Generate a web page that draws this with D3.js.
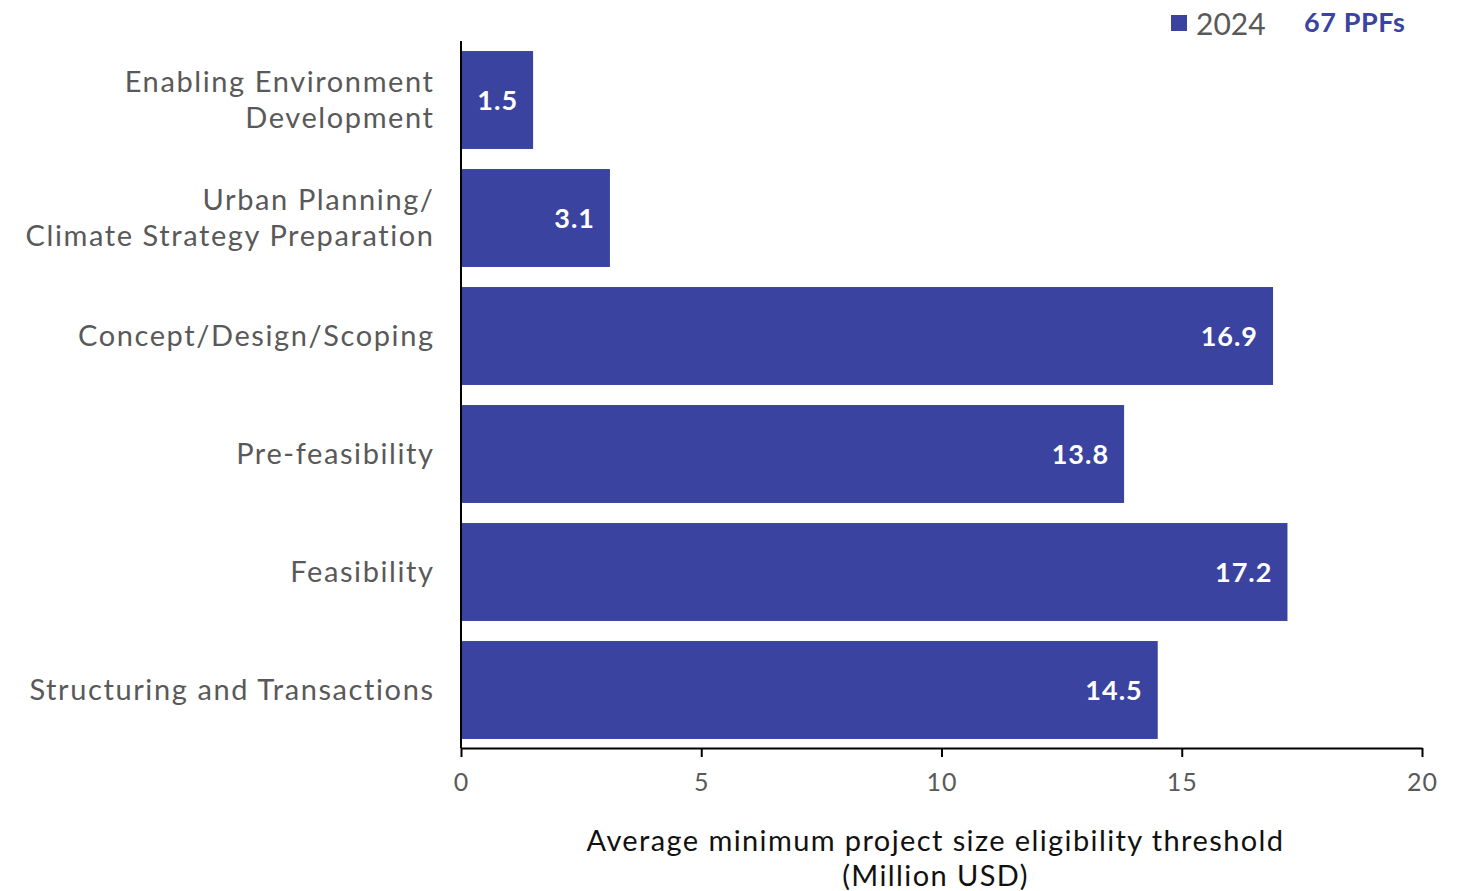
<!DOCTYPE html>
<html>
<head>
<meta charset="utf-8">
<script src="https://cdn.jsdelivr.net/npm/d3@7"></script>
<style>
  html, body { margin: 0; padding: 0; background: #fff; }
  svg { display: block; font-family: "Lato", "Noto Sans", sans-serif; }
</style>
</head>
<body>
<svg id="chart" width="1465" height="891"></svg>
<script>
// Facility stages and their average minimum project size threshold (Million USD)
const categories = [
  ["Enabling Environment", "Development"],
  ["Urban Planning/", "Climate Strategy Preparation"],
  ["Concept/Design/Scoping"],
  ["Pre-feasibility"],
  ["Feasibility"],
  ["Structuring and Transactions"]
];
const values = [1.5, 3.1, 16.9, 13.8, 17.2, 14.5];
const xTicks = [0, 5, 10, 15, 20];
const seriesName = "2024";
const sampleNote = "67 PPFs";
const axisTitle = ["Average minimum project size eligibility threshold", "(Million USD)"];

const barColor = "#3A44A0";
const labelGrey = "#595959";

const svg = d3.select("#chart");
const plotLeft = 461, plotRight = 1422, plotTop = 41, plotBottom = 749;

const x = d3.scaleLinear().domain([0, 20]).range([plotLeft, plotRight]);
const y = d3.scaleBand()
  .domain(categories.map((c, i) => i))
  .range([plotTop, plotBottom])
  .paddingInner(0.17)
  .paddingOuter(0.085);

// Bars
svg.append("g").selectAll("rect")
  .data(values)
  .join("rect")
  .attr("x", x(0) + 1)
  .attr("y", (d, i) => y(i))
  .attr("width", d => x(d) - x(0) - 1)
  .attr("height", y.bandwidth())
  .attr("fill", barColor);

// Value labels inside bar ends
const valSpacing = 1;
svg.append("g").selectAll("text")
  .data(values)
  .join("text")
  .attr("x", d => x(d) - 16 + valSpacing)
  .attr("y", (d, i) => y(i) + y.bandwidth() / 2)
  .attr("dy", "0.36em")
  .attr("text-anchor", "end")
  .attr("fill", "#fff")
  .attr("font-weight", 700)
  .attr("font-size", 27)
  .attr("letter-spacing", valSpacing)
  .text(d => d.toFixed(1));

// Category labels
const catSpacing = 1.6;
const catG = svg.append("g");
categories.forEach((lines, i) => {
  const cy = y(i) + y.bandwidth() / 2;
  const lh = 36;
  const t = catG.append("text")
    .attr("text-anchor", "end")
    .attr("fill", labelGrey)
    .attr("font-size", 29)
    .attr("letter-spacing", catSpacing);
  lines.forEach((ln, j) => {
    t.append("tspan")
      .attr("x", 433 + catSpacing)
      .attr("y", cy + (j - (lines.length - 1) / 2) * lh)
      .attr("dy", "0.35em")
      .text(ln);
  });
});

// Y axis line
svg.append("line")
  .attr("x1", plotLeft).attr("x2", plotLeft)
  .attr("y1", plotTop).attr("y2", 748)
  .attr("stroke", "#000").attr("stroke-width", 2);

// X axis
const xAxis = svg.append("g")
  .attr("transform", `translate(0,748)`)
  .call(d3.axisBottom(x).tickValues(xTicks).tickSize(9).tickPadding(16).tickSizeOuter(0));
xAxis.select(".domain").attr("stroke", "#000").attr("stroke-width", 2);
xAxis.selectAll(".tick line").attr("stroke", "#000").attr("stroke-width", 2);
xAxis.selectAll(".tick text")
  .attr("fill", labelGrey)
  .attr("font-size", 25)
  .attr("letter-spacing", 1)
  .attr("font-family", "Lato, 'Noto Sans', sans-serif");

// Axis title
const at = svg.append("text")
  .attr("text-anchor", "middle")
  .attr("fill", "#111")
  .attr("font-size", 29)
  .attr("letter-spacing", 1.4);
axisTitle.forEach((ln, j) => {
  at.append("tspan")
    .attr("x", (plotLeft + plotRight) / 2 - 6)
    .attr("y", 841 + j * 35)
    .attr("dy", "0.35em")
    .text(ln);
});

// Legend
svg.append("rect")
  .attr("x", 1171).attr("y", 15).attr("width", 16).attr("height", 16)
  .attr("fill", barColor);
svg.append("text")
  .attr("x", 1196).attr("y", 24).attr("dy", "0.36em")
  .attr("fill", labelGrey).attr("font-size", 30)
  .text(seriesName);
svg.append("text")
  .attr("x", 1304).attr("y", 22).attr("dy", "0.36em")
  .attr("fill", barColor).attr("font-size", 27).attr("font-weight", 700)
  .attr("letter-spacing", 0.6)
  .text(sampleNote);
</script>
</body>
</html>
